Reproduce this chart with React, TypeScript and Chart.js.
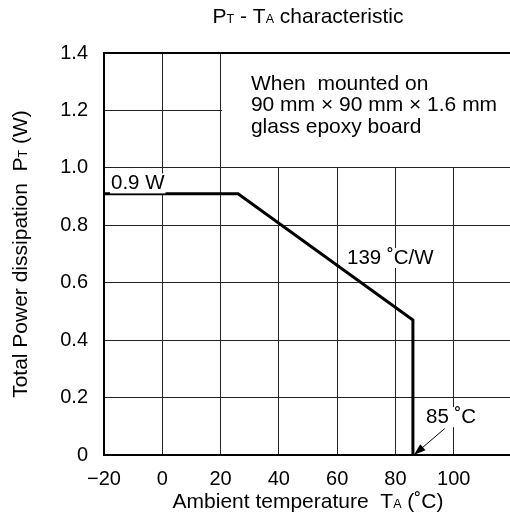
import React, { useEffect, useRef } from 'react';
import { Chart, registerables } from 'chart.js';

Chart.register(...registerables);

// ---- data ----
const curveTemps = [-20, 26, 86, 86];
const curvePower = [0.91, 0.91, 0.47, 0];
const xTickValues = [-20, 0, 20, 40, 60, 80, 100, 120];
const yTickValues = [0, 0.2, 0.4, 0.6, 0.8, 1.0, 1.2, 1.4];
const X_MIN = -20;
const X_MAX = 120;
const Y_MIN = 0;
const Y_MAX = 1.4;

const FONT = '"Liberation Sans", Arial, Helvetica, sans-serif';
const TICK = 20;
const BIG = 21;
const SMALL = 12.5;

type Part = { t: string; small?: boolean };

const titleParts: Part[] = [{ t: 'P' }, { t: 'T', small: true }, { t: ' - T' }, { t: 'A', small: true }, { t: ' characteristic' }];
const yTitleParts: Part[] = [{ t: 'Total Power dissipation  P' }, { t: 'T', small: true }, { t: ' (W)' }];
const xTitleParts: Part[] = [{ t: 'Ambient temperature  T' }, { t: 'A', small: true }, { t: ' (\u02DAC)' }];
const noteLines = ['When  mounted on', '90 mm \u00D7 90 mm \u00D7 1.6 mm', 'glass epoxy board'];

function fontOf(small?: boolean, size = BIG) {
  return `${small ? SMALL : size}px ${FONT}`;
}

function richWidth(ctx: CanvasRenderingContext2D, parts: Part[], size = BIG) {
  let w = 0;
  for (const p of parts) {
    ctx.font = fontOf(p.small, size);
    w += ctx.measureText(p.t).width;
  }
  return w;
}

function drawRich(ctx: CanvasRenderingContext2D, parts: Part[], x: number, y: number, size = BIG) {
  const total = richWidth(ctx, parts, size);
  let cx = x - total / 2;
  ctx.textAlign = 'left';
  ctx.textBaseline = 'alphabetic';
  for (const p of parts) {
    ctx.font = fontOf(p.small, size);
    ctx.fillText(p.t, cx, y);
    cx += ctx.measureText(p.t).width;
  }
}

function drawLabel(ctx: CanvasRenderingContext2D, text: string, x: number, y: number) {
  ctx.font = fontOf(false, 20.5);
  const w = ctx.measureText(text).width;
  ctx.fillStyle = '#fff';
  ctx.fillRect(x - 1, y - 16, w + 2, 20);
  ctx.fillStyle = '#000';
  ctx.textAlign = 'left';
  ctx.textBaseline = 'alphabetic';
  ctx.fillText(text, x, y);
}

const decorPlugin = {
  id: 'decor',
  beforeDatasetsDraw(chart: any) {
    const { ctx, chartArea } = chart;
    const { left, top, right, bottom } = chartArea;
    const xs = chart.scales.x;
    const ys = chart.scales.y;
    const bx = Math.round(xs.getPixelForValue(20));
    const by = Math.round(ys.getPixelForValue(1.0));
    ctx.save();
    ctx.fillStyle = '#fff';
    ctx.fillRect(bx + 1, top - 2, right - bx + 10, by - top + 1);
    ctx.strokeStyle = '#000';
    ctx.lineWidth = 2;
    ctx.beginPath();
    ctx.moveTo(right + 5, top);
    ctx.lineTo(left, top);
    ctx.lineTo(left, bottom);
    ctx.lineTo(right + 5, bottom);
    ctx.stroke();
    ctx.restore();
  },
  afterDatasetsDraw(chart: any) {
    const { ctx, chartArea } = chart;
    const xs = chart.scales.x;
    const ys = chart.scales.y;
    const px = (v: number) => xs.getPixelForValue(v);
    const py = (v: number) => ys.getPixelForValue(v);
    ctx.save();
    ctx.fillStyle = '#000';
    ctx.font = fontOf(false);
    ctx.textAlign = 'left';
    ctx.textBaseline = 'alphabetic';
    const nx = px(30.4);
    const ny = py(1.272);
    noteLines.forEach((s, i) => ctx.fillText(s, nx, ny + i * 21.5));
    drawLabel(ctx, '0.9 W', px(-17.6), py(0.925));
    drawLabel(ctx, '139 \u02DAC/W', px(63.4), py(0.665));
    drawLabel(ctx, '85 \u02DAC', px(90.5), py(0.111));
    const ax0 = px(96.9), ay0 = py(0.092);
    const ax1 = px(86.3), ay1 = py(0);
    ctx.strokeStyle = '#000';
    ctx.lineWidth = 1;
    ctx.beginPath();
    ctx.moveTo(ax0, ay0);
    ctx.lineTo(ax1, ay1);
    ctx.stroke();
    const ang = Math.atan2(ay1 - ay0, ax1 - ax0);
    const L = 12, W = 4;
    ctx.beginPath();
    ctx.moveTo(ax1, ay1);
    ctx.lineTo(ax1 - L * Math.cos(ang) + W * Math.sin(ang), ay1 - L * Math.sin(ang) - W * Math.cos(ang));
    ctx.lineTo(ax1 - L * Math.cos(ang) - W * Math.sin(ang), ay1 - L * Math.sin(ang) + W * Math.cos(ang));
    ctx.closePath();
    ctx.fillStyle = '#000';
    ctx.fill();
    const cxm = (chartArea.left + chartArea.right) / 2;
    const cym = (chartArea.top + chartArea.bottom) / 2;
    ctx.fillStyle = '#000';
    drawRich(ctx, titleParts, cxm, 23);
    drawRich(ctx, xTitleParts, cxm, 508);
    ctx.translate(27, cym);
    ctx.rotate(-Math.PI / 2);
    drawRich(ctx, yTitleParts, 0, 0);
    ctx.restore();
  },
};

export default function App() {
  const ref = useRef<HTMLCanvasElement | null>(null);
  useEffect(() => {
    if (!ref.current) return;
    const chart = new Chart(ref.current, {
      type: 'line',
      data: {
        datasets: [
          {
            data: curveTemps.map((t, i) => ({ x: t, y: curvePower[i] })),
            borderColor: '#000',
            borderWidth: 3,
            pointRadius: 0,
            tension: 0,
            fill: false,
            borderJoinStyle: 'miter',
          },
        ],
      },
      options: {
        responsive: false,
        animation: false,
        layout: { padding: { top: 53, right: 2, left: 0, bottom: 0 } },
        plugins: { legend: { display: false }, tooltip: { enabled: false }, title: { display: false } },
        scales: {
          x: {
            type: 'linear',
            min: X_MIN,
            max: X_MAX,
            afterBuildTicks: (s: any) => {
              s.ticks = xTickValues.map((v) => ({ value: v }));
            },
            afterFit: (s: any) => {
              s.height = 70;
              s.paddingLeft = 0;
              s.paddingRight = 0;
            },
            grid: { color: '#222', lineWidth: 1, drawTicks: false },
            border: { display: false },
            ticks: {
              padding: 12,
              color: '#000',
              font: { family: FONT, size: TICK },
              maxRotation: 0,
              autoSkip: false,
              callback: (v: any) => (v === 120 ? '' : v < 0 ? '\u2212' + Math.abs(v) : String(v)),
            },
          },
          y: {
            type: 'linear',
            min: Y_MIN,
            max: Y_MAX,
            afterBuildTicks: (s: any) => {
              s.ticks = yTickValues.map((v) => ({ value: v }));
            },
            afterFit: (s: any) => {
              s.width = 104;
              s.paddingTop = 0;
              s.paddingBottom = 0;
            },
            grid: { color: '#222', lineWidth: 1, drawTicks: false },
            border: { display: false },
            ticks: {
              padding: 16,
              color: '#000',
              font: { family: FONT, size: TICK },
              autoSkip: false,
              callback: (v: any) => (v === 0 ? '0' : Number(v).toFixed(1)),
            },
          },
        },
      },
      plugins: [decorPlugin],
    } as any);
    return () => chart.destroy();
  }, []);
  return (
    <div style={{ position: 'fixed', left: 0, top: 0, width: 510, height: 525, overflow: 'hidden', background: '#fff' }}>
      <canvas ref={ref} width={514} height={525} style={{ width: 514, height: 525, display: 'block' }} />
    </div>
  );
}
